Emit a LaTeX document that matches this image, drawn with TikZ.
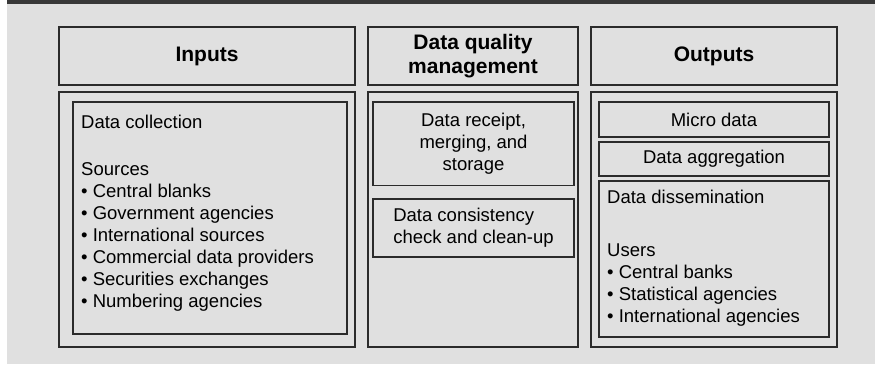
\documentclass[tikz,border=0pt]{standalone}
\usepackage{fontspec}
\setmainfont{Liberation Sans}
\usepackage{tikz}
\definecolor{panelgray}{HTML}{E0E0E0}
\definecolor{bargray}{HTML}{383838}
\definecolor{edgegray}{HTML}{2B2B2B}

\begin{document}
\begin{tikzpicture}[x=1pt, y=-1pt,
head/.style={draw=edgegray, line width=1.2pt, inner sep=0pt, align=center,
font=\fontsize{21}{23.5}\selectfont\bfseries},
box/.style={draw=edgegray, line width=1.2pt, inner sep=0pt, align=center,
font=\fontsize{18.5}{22}\selectfont},
txt/.style={inner sep=0pt, align=left, anchor=north west,
font=\fontsize{18.5}{22}\selectfont}]
  \useasboundingbox (0,0) rectangle (875,364);
  % background
  \fill[panelgray] (7,0) rectangle (875,364);
  \fill[bargray] (7,0) rectangle (875,4);
  % headers
  \node[head, minimum width=296pt, minimum height=58pt] (h1) at (207,56)   {Inputs};
  \node[head, minimum width=210pt, minimum height=58pt] (h2) at (473,56)   {Data quality\\management};
  \node[head, minimum width=246pt, minimum height=58pt] (h3) at (714,56)   {Outputs};
  % columns
  \node[box, minimum width=296pt, minimum height=255pt] (b1) at (207,219.5) {};
  \node[box, minimum width=210pt, minimum height=255pt] (b2) at (473,219.5) {};
  \node[box, minimum width=246pt, minimum height=255pt] (b3) at (714,219.5) {};
  % inputs
  \node[box, minimum width=274pt, minimum height=232pt] (b11) at (210,218) {};
  \node[txt] (t11) at (81,114.5) {Data collection\\[25.4pt]Sources\\
    • Central blanks\\• Government agencies\\• International sources\\
    • Commercial data providers\\• Securities exchanges\\• Numbering agencies};
  % data quality management
  \node[box, minimum width=201pt, minimum height=83.5pt] (b21) at (473.5,143.75)
    {Data receipt,\\merging, and\\storage};
  \node[box, minimum width=201pt, minimum height=58pt, align=left] (b22) at (473.5,228)
    {Data consistency\\check and clean-up};
  % outputs
  \node[box, minimum width=230pt, minimum height=35pt] (b31) at (714,119.5) {Micro data};
  \node[box, minimum width=230pt, minimum height=34pt] (b32) at (714,159)   {Data aggregation};
  \node[box, minimum width=230pt, minimum height=156pt] (b33) at (714,259)  {};
  \node[txt] (t33) at (607,189.5) {Data dissemination\\[31.7pt]Users\\
    • Central banks\\• Statistical agencies\\• International agencies};
\end{tikzpicture}
\end{document}
